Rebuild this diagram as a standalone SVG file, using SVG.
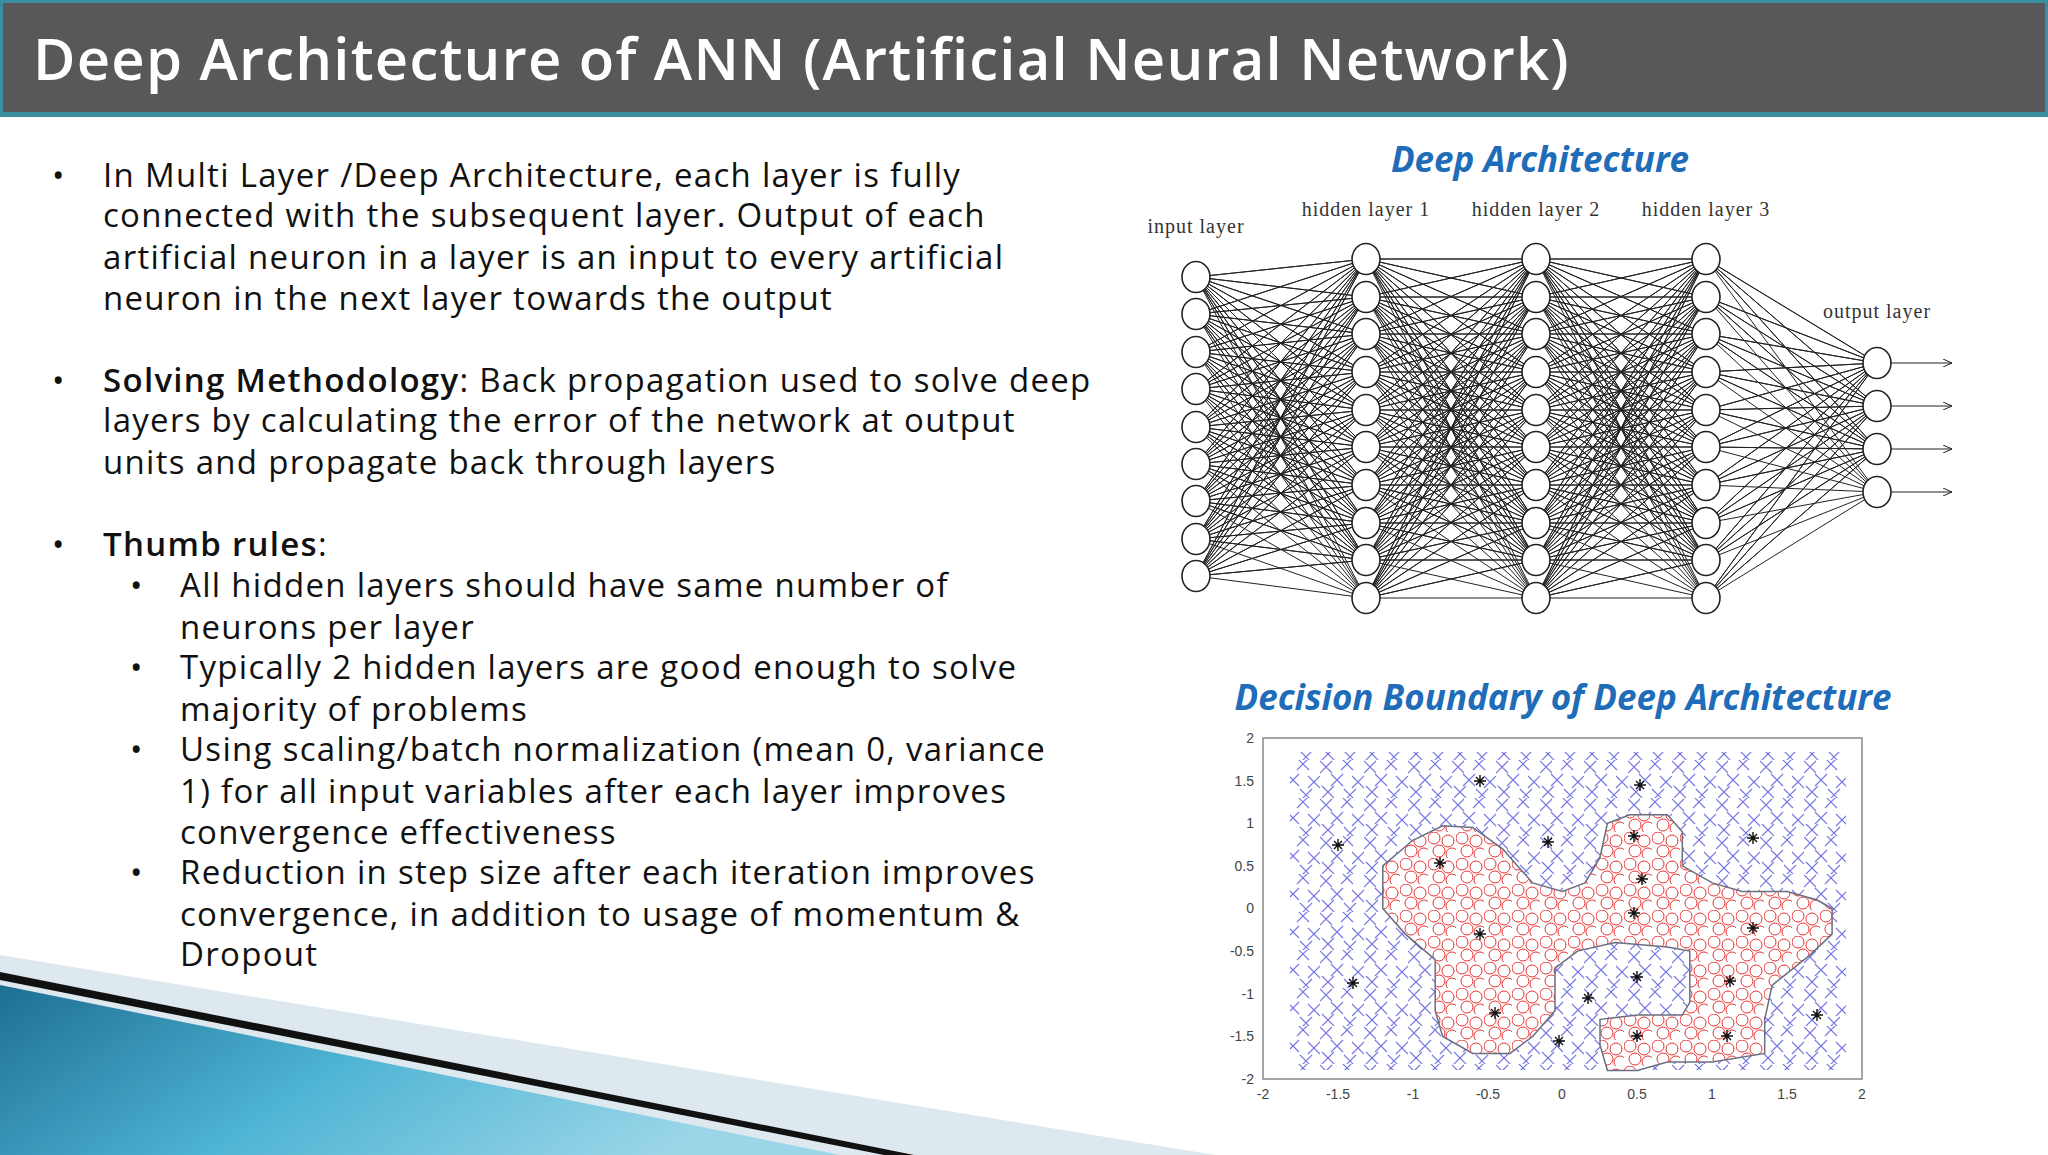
<svg xmlns="http://www.w3.org/2000/svg" width="2048" height="1155" viewBox="0 0 2048 1155">
<defs>
<style>
.t{font-family:"Open Sans","Noto Sans",sans-serif;font-size:33px;fill:#111;letter-spacing:1.3px}
.b{font-weight:600}
.h{font-family:"Open Sans","Noto Sans",sans-serif;font-size:35px;font-weight:700;font-style:italic;fill:#1f6cb8;text-anchor:middle}
.s{font-family:"Liberation Serif",serif;font-size:20px;fill:#333;text-anchor:middle;letter-spacing:1px}
.k{font-family:"Liberation Sans",sans-serif;font-size:14px;fill:#444}
.e{fill:none;stroke:#222;stroke-width:1}
.n{fill:#fff;stroke:#222;stroke-width:1.6}
</style>
<linearGradient id="bg" x1="0" y1="0" x2="1" y2="0.3">
<stop offset="0" stop-color="#1d6f93"/><stop offset="0.5" stop-color="#4fb4d4"/><stop offset="1" stop-color="#9bd6e8"/>
</linearGradient>
<pattern id="px" width="44" height="38" patternUnits="userSpaceOnUse">
<path d="M0 1l12 12m0-12l-12 12M21-2l12 12m0-12l-12 12M11 14l12 12m0-12l-12 12M32 16l12 12m0-12l-12 12M2 26l12 12m0-12l-12 12M24 29l12 12m0-12l-12 12" fill="none" stroke="#4747d8" stroke-opacity="0.75" stroke-width="1.1"/>
</pattern>
<pattern id="po" width="28" height="26" patternUnits="userSpaceOnUse">
<g fill="none" stroke="#e83030" stroke-width="1"><circle cx="6" cy="6" r="6"/><circle cx="20" cy="9" r="6"/><circle cx="11" cy="19" r="6"/><circle cx="24" cy="22" r="6"/></g>
</pattern>
<clipPath id="cp"><rect x="1290" y="752" width="556" height="318"/></clipPath>
<marker id="ar" markerWidth="10" markerHeight="8" refX="9" refY="4" orient="auto" markerUnits="userSpaceOnUse"><path d="M0 0L9 4L0 8" fill="none" stroke="#222"/></marker>
<path id="ast" d="M-6 0h12M0-6v12M-4-4l8 8M4-4l-8 8" stroke="#111" stroke-width="1.4"/>
</defs>
<rect width="2048" height="1155" fill="#fff"/>
<g id="header">
<rect x="0" y="0" width="2048" height="117" fill="#3a8e9f"/>
<rect x="3" y="3" width="2042" height="109" fill="#58585a"/>
<text x="33" y="80" font-family="'Open Sans','Noto Sans',sans-serif" font-size="58" font-weight="600" letter-spacing="1.2" fill="#fff">Deep Architecture of ANN (Artificial Neural Network)</text>
</g>
<g id="decor">
<polygon points="0,955 1215,1155 0,1155" fill="#dde8ef"/>
<polygon points="0,972 914,1155 884,1155 0,980" fill="#111"/>
<polygon points="0,985 840,1155 0,1155" fill="url(#bg)"/>
</g>
<g id="bullets">
<text class="t" x="52" y="187">•</text>
<text class="t" x="103" y="187">In Multi Layer /Deep Architecture, each layer is fully</text>
<text class="t" x="103" y="227">connected with the subsequent layer. Output of each</text>
<text class="t" x="103" y="269">artificial neuron in a layer is an input to every artificial</text>
<text class="t" x="103" y="310">neuron in the next layer towards the output</text>
<text class="t" x="52" y="392">•</text>
<text class="t" x="103" y="392"><tspan class="b">Solving Methodology</tspan>: Back propagation used to solve deep</text>
<text class="t" x="103" y="432">layers by calculating the error of the network at output</text>
<text class="t" x="103" y="474">units and propagate back through layers</text>
<text class="t" x="52" y="556">•</text>
<text class="t" x="103" y="556"><tspan class="b">Thumb rules</tspan>:</text>
<text class="t" x="130" y="597">•</text>
<text class="t" x="180" y="597">All hidden layers should have same number of</text>
<text class="t" x="180" y="639">neurons per layer</text>
<text class="t" x="130" y="679">•</text>
<text class="t" x="180" y="679">Typically 2 hidden layers are good enough to solve</text>
<text class="t" x="180" y="721">majority of problems</text>
<text class="t" x="130" y="761">•</text>
<text class="t" x="180" y="761">Using scaling/batch normalization (mean 0, variance</text>
<text class="t" x="180" y="803">1) for all input variables after each layer improves</text>
<text class="t" x="180" y="844">convergence effectiveness</text>
<text class="t" x="130" y="884">•</text>
<text class="t" x="180" y="884">Reduction in step size after each iteration improves</text>
<text class="t" x="180" y="926">convergence, in addition to usage of momentum &amp;</text>
<text class="t" x="180" y="966">Dropout</text>
</g>
<text class="h" x="1540" y="172">Deep Architecture</text>
<text class="h" x="1563" y="710">Decision Boundary of Deep Architecture</text>
<g id="connectors">
<path id="ih" class="e" d="M1196 277L1366 259 1196 277 1366 297 1196 277 1366 334 1196 277 1366 372 1196 277 1366 410 1196 277 1366 447 1196 277 1366 485 1196 277 1366 523 1196 277 1366 560 1196 277 1366 598
M1196 314L1366 259 1196 314 1366 297 1196 314 1366 334 1196 314 1366 372 1196 314 1366 410 1196 314 1366 447 1196 314 1366 485 1196 314 1366 523 1196 314 1366 560 1196 314 1366 598
M1196 352L1366 259 1196 352 1366 297 1196 352 1366 334 1196 352 1366 372 1196 352 1366 410 1196 352 1366 447 1196 352 1366 485 1196 352 1366 523 1196 352 1366 560 1196 352 1366 598
M1196 389L1366 259 1196 389 1366 297 1196 389 1366 334 1196 389 1366 372 1196 389 1366 410 1196 389 1366 447 1196 389 1366 485 1196 389 1366 523 1196 389 1366 560 1196 389 1366 598
M1196 427L1366 259 1196 427 1366 297 1196 427 1366 334 1196 427 1366 372 1196 427 1366 410 1196 427 1366 447 1196 427 1366 485 1196 427 1366 523 1196 427 1366 560 1196 427 1366 598
M1196 464L1366 259 1196 464 1366 297 1196 464 1366 334 1196 464 1366 372 1196 464 1366 410 1196 464 1366 447 1196 464 1366 485 1196 464 1366 523 1196 464 1366 560 1196 464 1366 598
M1196 501L1366 259 1196 501 1366 297 1196 501 1366 334 1196 501 1366 372 1196 501 1366 410 1196 501 1366 447 1196 501 1366 485 1196 501 1366 523 1196 501 1366 560 1196 501 1366 598
M1196 539L1366 259 1196 539 1366 297 1196 539 1366 334 1196 539 1366 372 1196 539 1366 410 1196 539 1366 447 1196 539 1366 485 1196 539 1366 523 1196 539 1366 560 1196 539 1366 598
M1196 576L1366 259 1196 576 1366 297 1196 576 1366 334 1196 576 1366 372 1196 576 1366 410 1196 576 1366 447 1196 576 1366 485 1196 576 1366 523 1196 576 1366 560 1196 576 1366 598"/>
<path id="hh" class="e" d="M1366 259L1536 259 1366 259 1536 297 1366 259 1536 334 1366 259 1536 372 1366 259 1536 410 1366 259 1536 447 1366 259 1536 485 1366 259 1536 523 1366 259 1536 560 1366 259 1536 598
M1366 297L1536 259 1366 297 1536 297 1366 297 1536 334 1366 297 1536 372 1366 297 1536 410 1366 297 1536 447 1366 297 1536 485 1366 297 1536 523 1366 297 1536 560 1366 297 1536 598
M1366 334L1536 259 1366 334 1536 297 1366 334 1536 334 1366 334 1536 372 1366 334 1536 410 1366 334 1536 447 1366 334 1536 485 1366 334 1536 523 1366 334 1536 560 1366 334 1536 598
M1366 372L1536 259 1366 372 1536 297 1366 372 1536 334 1366 372 1536 372 1366 372 1536 410 1366 372 1536 447 1366 372 1536 485 1366 372 1536 523 1366 372 1536 560 1366 372 1536 598
M1366 410L1536 259 1366 410 1536 297 1366 410 1536 334 1366 410 1536 372 1366 410 1536 410 1366 410 1536 447 1366 410 1536 485 1366 410 1536 523 1366 410 1536 560 1366 410 1536 598
M1366 447L1536 259 1366 447 1536 297 1366 447 1536 334 1366 447 1536 372 1366 447 1536 410 1366 447 1536 447 1366 447 1536 485 1366 447 1536 523 1366 447 1536 560 1366 447 1536 598
M1366 485L1536 259 1366 485 1536 297 1366 485 1536 334 1366 485 1536 372 1366 485 1536 410 1366 485 1536 447 1366 485 1536 485 1366 485 1536 523 1366 485 1536 560 1366 485 1536 598
M1366 523L1536 259 1366 523 1536 297 1366 523 1536 334 1366 523 1536 372 1366 523 1536 410 1366 523 1536 447 1366 523 1536 485 1366 523 1536 523 1366 523 1536 560 1366 523 1536 598
M1366 560L1536 259 1366 560 1536 297 1366 560 1536 334 1366 560 1536 372 1366 560 1536 410 1366 560 1536 447 1366 560 1536 485 1366 560 1536 523 1366 560 1536 560 1366 560 1536 598
M1366 598L1536 259 1366 598 1536 297 1366 598 1536 334 1366 598 1536 372 1366 598 1536 410 1366 598 1536 447 1366 598 1536 485 1366 598 1536 523 1366 598 1536 560 1366 598 1536 598"/>
<use href="#hh" transform="translate(170,0)"/>
<path id="ho" class="e" d="M1706 259L1877 363 1706 259 1877 406 1706 259 1877 449 1706 259 1877 492
M1706 297L1877 363 1706 297 1877 406 1706 297 1877 449 1706 297 1877 492
M1706 334L1877 363 1706 334 1877 406 1706 334 1877 449 1706 334 1877 492
M1706 372L1877 363 1706 372 1877 406 1706 372 1877 449 1706 372 1877 492
M1706 410L1877 363 1706 410 1877 406 1706 410 1877 449 1706 410 1877 492
M1706 447L1877 363 1706 447 1877 406 1706 447 1877 449 1706 447 1877 492
M1706 485L1877 363 1706 485 1877 406 1706 485 1877 449 1706 485 1877 492
M1706 523L1877 363 1706 523 1877 406 1706 523 1877 449 1706 523 1877 492
M1706 560L1877 363 1706 560 1877 406 1706 560 1877 449 1706 560 1877 492
M1706 598L1877 363 1706 598 1877 406 1706 598 1877 449 1706 598 1877 492"/>
<path class="e" marker-end="url(#ar)" d="M1891 363H1952"/>
<path class="e" marker-end="url(#ar)" d="M1891 406H1952"/>
<path class="e" marker-end="url(#ar)" d="M1891 449H1952"/>
<path class="e" marker-end="url(#ar)" d="M1891 492H1952"/>
</g>
<g id="input-layer">
<ellipse class="n" cx="1196" cy="277" rx="14" ry="15.5"/><ellipse class="n" cx="1196" cy="314" rx="14" ry="15.5"/><ellipse class="n" cx="1196" cy="352" rx="14" ry="15.5"/><ellipse class="n" cx="1196" cy="389" rx="14" ry="15.5"/><ellipse class="n" cx="1196" cy="427" rx="14" ry="15.5"/><ellipse class="n" cx="1196" cy="464" rx="14" ry="15.5"/><ellipse class="n" cx="1196" cy="501" rx="14" ry="15.5"/><ellipse class="n" cx="1196" cy="539" rx="14" ry="15.5"/><ellipse class="n" cx="1196" cy="576" rx="14" ry="15.5"/>
<text class="s" x="1196" y="233">input layer</text>
</g>
<g id="hidden-layer-1">
<g id="hcol"><ellipse class="n" cx="1366" cy="259" rx="14" ry="15.5"/><ellipse class="n" cx="1366" cy="297" rx="14" ry="15.5"/><ellipse class="n" cx="1366" cy="334" rx="14" ry="15.5"/><ellipse class="n" cx="1366" cy="372" rx="14" ry="15.5"/><ellipse class="n" cx="1366" cy="410" rx="14" ry="15.5"/><ellipse class="n" cx="1366" cy="447" rx="14" ry="15.5"/><ellipse class="n" cx="1366" cy="485" rx="14" ry="15.5"/><ellipse class="n" cx="1366" cy="523" rx="14" ry="15.5"/><ellipse class="n" cx="1366" cy="560" rx="14" ry="15.5"/><ellipse class="n" cx="1366" cy="598" rx="14" ry="15.5"/></g>
<text class="s" x="1366" y="216">hidden layer 1</text>
</g>
<g id="hidden-layer-2"><use href="#hcol" transform="translate(170,0)"/><text class="s" x="1536" y="216">hidden layer 2</text></g>
<g id="hidden-layer-3"><use href="#hcol" transform="translate(340,0)"/><text class="s" x="1706" y="216">hidden layer 3</text></g>
<g id="output-layer">
<ellipse class="n" cx="1877" cy="363" rx="14" ry="15.5"/><ellipse class="n" cx="1877" cy="406" rx="14" ry="15.5"/><ellipse class="n" cx="1877" cy="449" rx="14" ry="15.5"/><ellipse class="n" cx="1877" cy="492" rx="14" ry="15.5"/>
<text class="s" x="1877" y="318">output layer</text>
</g>
<g id="plot">
<rect x="1263" y="738" width="599" height="341" fill="#fff" stroke="#888" stroke-width="1.5"/>
<g clip-path="url(#cp)"><rect x="1290" y="752" width="556" height="318" fill="url(#px)"/></g>
<path d="M1382.8 865.9L1412.8 840.3 1442.7 825.8 1472.7 827.5 1502.6 848.8 1517.6 865.9 1532.6 882.9 1562.5 891.5 1585 882.9 1600 857.4 1607.4 823.3 1629.9 814.7 1667.3 814.7 1682.3 831.8 1682.3 865.9 1712.3 882.9 1742.2 891.5 1787.1 891.5 1817.1 900 1832.1 908.5 1832.1 934.1 1809.6 955.4 1772.2 985.2 1764.7 1019.3 1764.7 1053.4 1712.3 1062 1667.3 1062 1637.4 1070.5 1607.4 1070.5 1600 1044.9 1600 1019.3 1637.4 1015.1 1682.3 1015.1 1689.8 1002.3 1689.8 951.1 1667.3 946.9 1614.9 942.6 1577.5 951.1 1555 968.2 1555 1010.8 1532.6 1036.4 1510.1 1053.4 1472.7 1053.4 1442.7 1036.4 1435.2 1010.8 1435.2 959.7 1405.3 934.1 1382.8 908.5Z" fill="#fff"/>
<path d="M1382.8 865.9L1412.8 840.3 1442.7 825.8 1472.7 827.5 1502.6 848.8 1517.6 865.9 1532.6 882.9 1562.5 891.5 1585 882.9 1600 857.4 1607.4 823.3 1629.9 814.7 1667.3 814.7 1682.3 831.8 1682.3 865.9 1712.3 882.9 1742.2 891.5 1787.1 891.5 1817.1 900 1832.1 908.5 1832.1 934.1 1809.6 955.4 1772.2 985.2 1764.7 1019.3 1764.7 1053.4 1712.3 1062 1667.3 1062 1637.4 1070.5 1607.4 1070.5 1600 1044.9 1600 1019.3 1637.4 1015.1 1682.3 1015.1 1689.8 1002.3 1689.8 951.1 1667.3 946.9 1614.9 942.6 1577.5 951.1 1555 968.2 1555 1010.8 1532.6 1036.4 1510.1 1053.4 1472.7 1053.4 1442.7 1036.4 1435.2 1010.8 1435.2 959.7 1405.3 934.1 1382.8 908.5Z" fill="url(#po)" stroke="#6a6f80" stroke-width="1.5"/>
<g>
<use href="#ast" x="1338" y="845"/><use href="#ast" x="1480" y="781"/><use href="#ast" x="1640" y="785"/><use href="#ast" x="1548" y="842"/><use href="#ast" x="1753" y="838"/><use href="#ast" x="1440" y="863"/><use href="#ast" x="1634" y="836"/><use href="#ast" x="1642" y="879"/><use href="#ast" x="1634" y="913"/><use href="#ast" x="1480" y="934"/><use href="#ast" x="1753" y="928"/><use href="#ast" x="1353" y="983"/><use href="#ast" x="1637" y="977"/><use href="#ast" x="1588" y="998"/><use href="#ast" x="1730" y="981"/><use href="#ast" x="1495" y="1013"/><use href="#ast" x="1817" y="1015"/><use href="#ast" x="1559" y="1041"/><use href="#ast" x="1637" y="1036"/><use href="#ast" x="1727" y="1036"/>
</g>
<g class="k" text-anchor="end">
<text x="1254" y="743">2</text><text x="1254" y="786">1.5</text><text x="1254" y="828">1</text><text x="1254" y="871">0.5</text><text x="1254" y="913">0</text><text x="1254" y="956">-0.5</text><text x="1254" y="999">-1</text><text x="1254" y="1041">-1.5</text><text x="1254" y="1084">-2</text>
</g>
<g class="k" text-anchor="middle">
<text x="1263" y="1099">-2</text><text x="1338" y="1099">-1.5</text><text x="1413" y="1099">-1</text><text x="1488" y="1099">-0.5</text><text x="1562" y="1099">0</text><text x="1637" y="1099">0.5</text><text x="1712" y="1099">1</text><text x="1787" y="1099">1.5</text><text x="1862" y="1099">2</text>
</g>
</g>
</svg>
